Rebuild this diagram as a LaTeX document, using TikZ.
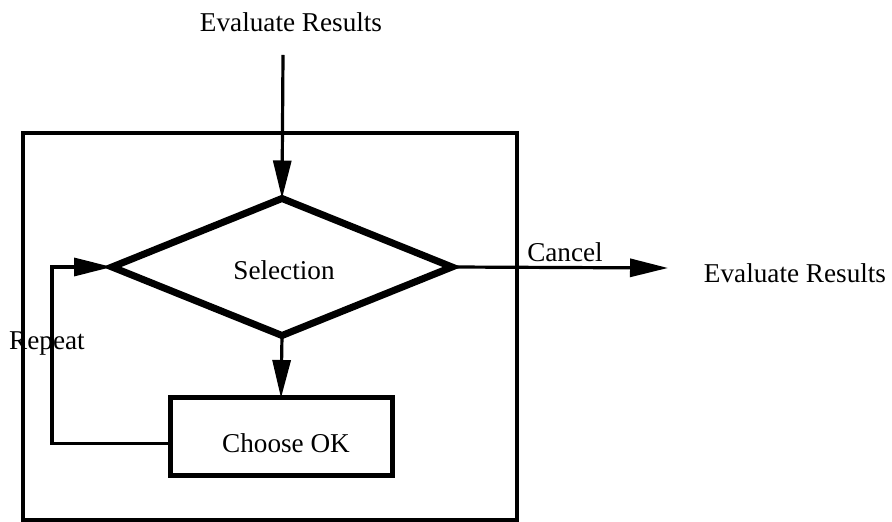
\documentclass[tikz,border=0pt]{standalone}
\usepackage{fontspec}
\setmainfont{Liberation Serif}
\usetikzlibrary{shapes.geometric,arrows.meta}
\begin{document}
\begin{tikzpicture}[x=0.5pt,y=-0.5pt,
  lbl/.style={inner sep=0pt, font=\fontsize{13.6pt}{16pt}\selectfont},
  conn/.style={line width=1.6pt, -{Triangle[length=19pt,width=9pt]}},
  selbox/.style={diamond, draw, line width=3.5pt, inner sep=0pt, outer sep=0pt,
    minimum width=170pt, minimum height=68.5pt, font=\fontsize{13.6pt}{16pt}\selectfont},
  okbox/.style={rectangle, draw, line width=2.5pt, inner sep=0pt, outer sep=0pt,
    minimum width=111pt, minimum height=38.5pt, font=\fontsize{13.6pt}{16pt}\selectfont},
  framebox/.style={rectangle, draw, line width=1.6pt, inner sep=0pt, outer sep=0pt,
    minimum width=247pt, minimum height=193.5pt}
]
\useasboundingbox (0,0) rectangle (892,522);
\node[framebox] (frame) at (270,326.5) {};
\node[lbl, anchor=base] (toplbl) at (291,32) {Evaluate Results};
\coordinate (topstart) at (283,55);
\node[selbox] (sel) at (282,267) {};
\node[lbl] (seltxt) at (284,270) {Selection};
\node[okbox] (ok) at (281,436.5) {};
\node[lbl, anchor=base] (oktxt) at (286,452) {Choose OK};
\coordinate (loopc) at (52,350);
\coordinate (cancelend) at (668,268);
\node[lbl, anchor=base] (cancel) at (565,262) {Cancel};
\node[lbl, anchor=base] (repeat) at (47,350) {Repeat};
\node[lbl, anchor=base] (rightlbl) at (795,283) {Evaluate Results};
\draw[conn] (topstart) -- (sel.north);
\draw[conn] (sel.south) -- (ok.north);
\draw[conn] ([yshift=-3.5pt]ok.west) -| (loopc) |- (sel.west);
\draw[conn] (sel.east) -- (cancelend);
\end{tikzpicture}
\end{document}
